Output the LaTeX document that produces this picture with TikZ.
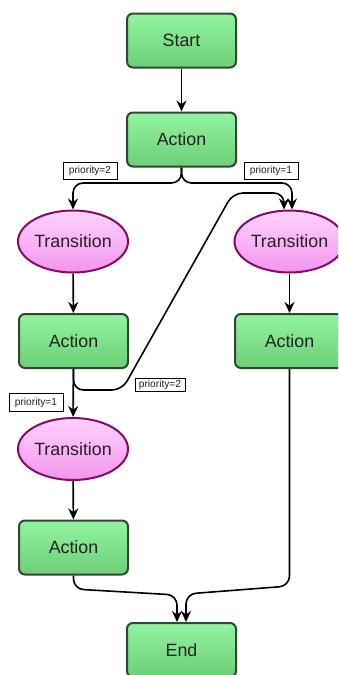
\documentclass[tikz,border=0pt]{standalone}
\usepackage{fontspec}
\setmainfont{Liberation Sans}
\usetikzlibrary{shapes.geometric,arrows.meta,calc}
\definecolor{gtop}{RGB}{146,244,160}
\definecolor{gbot}{RGB}{108,206,118}
\definecolor{gbord}{RGB}{48,72,48}
\definecolor{ptop}{RGB}{255,210,255}
\definecolor{pbot}{RGB}{242,150,236}
\definecolor{pbord}{RGB}{135,10,105}
\definecolor{txt}{RGB}{34,34,34}
\tikzset{
  actbox/.style={draw=gbord, line width=2pt, rounded corners=6pt, top color=gtop, bottom color=gbot,
    minimum width=109pt, minimum height=54pt, inner sep=0pt, text=txt, font=\fontsize{17.8}{20}\selectfont},
  trans/.style={ellipse, draw=pbord, line width=2pt, top color=ptop, bottom color=pbot,
    minimum width=110pt, minimum height=62pt, inner sep=0pt, text=txt, font=\fontsize{17.8}{20}\selectfont},
  prio/.style={draw=black, fill=white, line width=0.6pt, text=txt, font=\fontsize{10.2}{11}\selectfont,
    minimum width=54pt, minimum height=17pt, inner sep=1pt},
  conn/.style={draw=black, line width=1.6pt, rounded corners=10pt, -{Stealth[length=11pt,width=10pt]}}
}
\begin{document}
\begin{tikzpicture}[x=1pt,y=-1pt]
\useasboundingbox (0,0) rectangle (338,675);
\clip (0,0) rectangle (338,675);
\node[actbox] (start) at (181.5,40.5) {Start};
\node[actbox] (act1) at (181.5,139.5) {Action};
\node[trans] (tr1) at (73,241.5) {Transition};
\node[trans] (tr2) at (289.5,241.5) {Transition};
\node[actbox] (act2) at (73.5,341) {Action};
\node[actbox] (act3) at (289.5,341) {Action};
\node[trans] (tr3) at (73,449) {Transition};
\node[actbox] (act4) at (73.5,547.5) {Action};
\node[actbox] (end) at (181.5,650) {End};

\coordinate (tr2a) at ($(tr2.north)+(2.5,0)$);
\coordinate (tr2b) at ($(tr2.north)+(-5.5,0)$);
\coordinate (enda) at ($(end.north)+(-4.5,0)$);
\coordinate (endb) at ($(end.north)+(4.5,0)$);

\draw[conn] (start) -- (act1);
\draw[conn] (act1.south) -- (181.5,183) -- (tr1.north |- 0,183) -- (tr1.north);
\draw[conn] (act1.south) -- (181.5,183) -- (tr2a |- 0,183) -- (tr2a);
\draw[conn] (tr1) -- (act2);
\draw[conn] (tr2) -- (act3);
\draw[conn] (act2.south) -- (73.5,390) -- (122,390) -- (233,193) -- (tr2b |- 0,193) -- (tr2b);
\draw[conn] (act2) -- (tr3);
\draw[conn] (tr3) -- (act4);
\draw[conn] (act4.south) -- (73.5,589) -- (enda |- 0,595) -- (enda);
\draw[conn] (act3.south) -- (289.5,586) -- (endb |- 0,594) -- (endb);

\node[prio] (l1) at (90,170.5) {priority=2};
\node[prio] (l2) at (271,170.5) {priority=1};
\node[prio, minimum height=13pt, minimum width=50pt] (l3) at (160,384.5) {priority=2};
\node[prio, minimum height=18pt] (l4) at (36,402.5) {priority=1};
\end{tikzpicture}
\end{document}
